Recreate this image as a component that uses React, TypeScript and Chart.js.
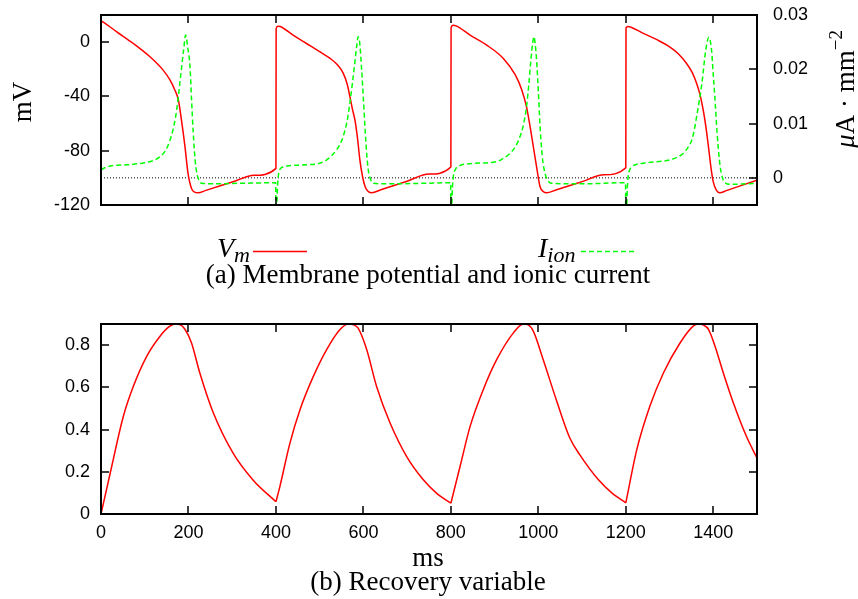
import React, { useEffect, useRef } from "react";
import { Chart, registerables } from "chart.js";

Chart.register(...registerables);

// ---------- data ----------
const X_TICKS = [0, 200, 400, 600, 800, 1000, 1200, 1400];
const MV_TICKS = [-120, -80, -40, 0];
const ION_TICKS = [0, 0.01, 0.02, 0.03];
const W_TICKS = [0, 0.2, 0.4, 0.6, 0.8];
const STIM_T = [400, 800, 1200];

const T_VM = [
  0, 0.5, 5, 36, 74, 112, 142, 158, 169, 177, 184, 192, 199, 207, 214, 222, 240, 302, 350, 400,
  400.5, 404, 410, 440, 470, 500, 524, 540, 554, 563, 569, 575, 581, 587, 592, 598, 604, 611, 619, 640, 700, 750, 800,
  800.5, 805, 812, 844, 882, 920, 947, 962, 973, 985, 996, 1004, 1011, 1019, 1040, 1100, 1150, 1200,
  1200.5, 1205, 1212, 1240, 1270, 1301, 1320, 1339, 1352, 1362, 1370, 1377, 1383, 1389, 1395, 1400, 1407, 1415, 1430, 1460, 1500,
];
const VM = [
  -80, 15.5, 14.8, 7.6, -1, -10.8, -20.6, -28, -35.4, -42.7, -57.5, -77, -96.7, -107.8, -110.5, -111, -109.2, -102.9, -98.1, -93,
  10, 11.8, 11.5, 5, -1, -7, -12, -16.5, -23, -31, -40, -49.5, -58, -72, -87, -99, -106.6, -110, -111, -108.8, -102.5, -97.2, -92,
  10.5, 12.5, 12, 5.2, -2.2, -12, -24, -35, -47.7, -69.8, -91.9, -106.6, -110, -111, -108.9, -102.8, -97.7, -92.6,
  10.5, 11.6, 11, 6.5, 2, -3.6, -8.5, -15.7, -22.5, -30.4, -39, -50, -62, -77, -93, -103, -109, -111, -109.4, -106.1, -101.7,
];

const T_ION = [
  0, 10, 21, 60, 100, 120, 135, 148, 158, 166, 173, 179, 184.5, 189, 193.5, 198, 203.5, 207, 211, 215, 219, 224, 230, 260, 320, 399.5,
  400.2, 401.5, 403, 405, 407, 410, 416, 424, 470, 500, 516, 539, 550, 558, 564, 569, 575, 581, 585, 588, 592, 596, 600, 604, 608, 611, 616, 623, 660, 740, 799.5,
  800.2, 801.5, 803, 805.6, 810, 817, 844, 905, 920, 935, 948, 958, 966, 973, 978, 983, 987, 990, 993, 996, 1000, 1004, 1009, 1015, 1022, 1030, 1100, 1199.5,
  1200.2, 1201.5, 1203, 1205, 1208, 1213, 1240, 1301, 1320, 1331, 1343, 1351, 1357, 1362, 1368, 1374, 1383, 1390, 1396, 1400, 1404, 1409, 1414, 1418, 1423, 1438, 1500,
];
const I_ION = [
  0.0015, 0.0019, 0.0022, 0.0024, 0.0028, 0.0032, 0.0039, 0.0051, 0.007, 0.0093, 0.0125, 0.0165, 0.0205, 0.0236, 0.0263, 0.0242, 0.0205, 0.0145, 0.0082, 0.0035, 0.0009, -0.0004, -0.001, -0.0011, -0.001, -0.0009,
  -0.02, -0.008, -0.003, 0.0, 0.0011, 0.0017, 0.002, 0.0022, 0.0024, 0.0027, 0.0033, 0.0052, 0.0068, 0.0088, 0.011, 0.0138, 0.0175, 0.0217, 0.0245, 0.026, 0.0245, 0.0199, 0.0145, 0.0088, 0.004, 0.0015, -0.0002, -0.001, -0.0011, -0.001, -0.0009,
  -0.02, -0.008, -0.003, 0.0002, 0.0015, 0.0021, 0.0026, 0.003, 0.0036, 0.0045, 0.0058, 0.0076, 0.0098, 0.0131, 0.017, 0.0217, 0.0248, 0.026, 0.0245, 0.0217, 0.016, 0.0094, 0.004, 0.0009, -0.0005, -0.001, -0.0011, -0.0009,
  -0.02, -0.008, -0.003, 0.0, 0.0013, 0.002, 0.0027, 0.0033, 0.0039, 0.0045, 0.0057, 0.007, 0.009, 0.0113, 0.0142, 0.0174, 0.0236, 0.0259, 0.0236, 0.019, 0.0144, 0.008, 0.0033, 0.001, -0.0004, -0.0012, -0.001,
];

const ZERO_T = [0, 1500];
const ZERO_I = [0, 0];

const T_W = [
  0, 21, 51, 74, 104.5, 135, 155, 169, 180, 192, 207, 226, 257, 302, 348, 400,
  409, 432, 455, 485.5, 516, 546.5, 565.5, 578, 588, 607.5, 630, 661, 699, 737, 767.6, 800,
  821, 844, 874, 905, 943, 966, 977, 988.5, 1011, 1042, 1072, 1095, 1137, 1168, 1200,
  1225, 1255, 1286, 1324, 1354, 1366, 1378, 1389, 1404, 1423, 1446, 1476, 1500,
];
const W = [
  0, 0.193, 0.462, 0.605, 0.747, 0.842, 0.886, 0.9, 0.897, 0.875, 0.81, 0.668, 0.478, 0.288, 0.16, 0.058,
  0.13, 0.336, 0.494, 0.652, 0.779, 0.874, 0.9, 0.896, 0.88, 0.779, 0.605, 0.431, 0.272, 0.162, 0.098, 0.051,
  0.225, 0.415, 0.589, 0.732, 0.858, 0.9, 0.896, 0.866, 0.732, 0.535, 0.36, 0.28, 0.163, 0.1, 0.053,
  0.304, 0.51, 0.668, 0.81, 0.89, 0.9, 0.895, 0.874, 0.795, 0.668, 0.526, 0.367, 0.265,
];

const CAPTION_A = "(a) Membrane potential and ionic current";
const CAPTION_B = "(b) Recovery variable";
const X_TITLE = "ms";
const Y_TITLE_V = "mV";

// ---------- style ----------
const SANS = "'Liberation Sans', Arial, Helvetica, sans-serif";
const SERIF = "'Liberation Serif', 'Times New Roman', Times, serif";
const TICK_FONT = { family: SANS, size: 18 };
const RED = "#ff0000";
const GREEN = "#00ff00";

const xy = (xs: number[], ys: number[]) => xs.map((x, i) => ({ x, y: ys[i] }));

function segments(ts: number[], vs: number[], cuts: number[]) {
  const segs: { x: number; y: number }[][] = [];
  let cur: { x: number; y: number }[] = [];
  ts.forEach((t, i) => {
    cur.push({ x: t, y: vs[i] });
    if (cuts.includes(t)) {
      segs.push(cur);
      cur = [{ x: t, y: vs[i] }];
    }
  });
  if (cur.length > 1) segs.push(cur);
  return segs;
}

const fmt = (v: number) => String(Math.round(v * 1000) / 1000);

function framePlugin(leftId: string, leftTicks: number[], mirrorLeft: boolean, rightId?: string, rightTicks?: number[]) {
  return {
    id: "frame",
    afterDatasetsDraw(chart: any) {
      const { ctx, chartArea: a, scales } = chart;
      const L = 8;
      ctx.save();
      ctx.strokeStyle = "#000";
      ctx.lineWidth = 1.5;
      ctx.beginPath();
      for (const v of X_TICKS) {
        const px = Math.round(scales.x.getPixelForValue(v));
        ctx.moveTo(px, a.top);
        ctx.lineTo(px, a.top + L);
        ctx.moveTo(px, a.bottom);
        ctx.lineTo(px, a.bottom - L);
      }
      for (const v of leftTicks) {
        const py = Math.round(scales[leftId].getPixelForValue(v));
        ctx.moveTo(a.left, py);
        ctx.lineTo(a.left + L, py);
        if (mirrorLeft) {
          ctx.moveTo(a.right, py);
          ctx.lineTo(a.right - L, py);
        }
      }
      if (rightId && rightTicks) {
        for (const v of rightTicks) {
          const py = Math.round(scales[rightId].getPixelForValue(v));
          ctx.moveTo(a.right, py);
          ctx.lineTo(a.right - L, py);
        }
      }
      ctx.stroke();
      ctx.lineWidth = 2;
      ctx.strokeRect(a.left, a.top, a.right - a.left, a.bottom - a.top);
      ctx.restore();
    },
  };
}

function drawSub(ctx: CanvasRenderingContext2D, x: number, y: number, main: string, sub: string, size: number) {
  ctx.textAlign = "left";
  ctx.font = `italic ${size}px ${SERIF}`;
  ctx.fillText(main, x, y);
  const w = ctx.measureText(main).width;
  ctx.font = `italic ${Math.round(size * 0.8)}px ${SERIF}`;
  ctx.fillText(sub, x + w, y + 5);
}

const topTextPlugin = {
  id: "topText",
  afterDraw(chart: any) {
    const ctx: CanvasRenderingContext2D = chart.ctx;
    ctx.save();
    ctx.fillStyle = "#000";
    ctx.textBaseline = "alphabetic";
    // legend
    drawSub(ctx, 217, 257, "V", "m", 28);
    ctx.strokeStyle = RED;
    ctx.lineWidth = 1.5;
    ctx.beginPath();
    ctx.moveTo(253, 251.5);
    ctx.lineTo(307, 251.5);
    ctx.stroke();
    drawSub(ctx, 538, 257, "I", "ion", 28);
    ctx.strokeStyle = GREEN;
    ctx.setLineDash([5, 3]);
    ctx.beginPath();
    ctx.moveTo(581, 251.5);
    ctx.lineTo(636, 251.5);
    ctx.stroke();
    ctx.setLineDash([]);
    // caption
    ctx.font = `27px ${SERIF}`;
    ctx.textAlign = "center";
    ctx.fillText(CAPTION_A, 428, 283);
    // left title
    ctx.save();
    ctx.translate(31, 102);
    ctx.rotate(-Math.PI / 2);
    ctx.textAlign = "center";
    ctx.font = `27px ${SERIF}`;
    ctx.fillText(Y_TITLE_V, 0, 0);
    ctx.restore();
    // right title: μA · mm^-2
    ctx.save();
    ctx.translate(854, 89);
    ctx.rotate(-Math.PI / 2);
    ctx.textAlign = "left";
    const parts = [
      { t: "μ", f: `italic 27px ${SERIF}`, dy: 0 },
      { t: "A · mm", f: `27px ${SERIF}`, dy: 0 },
      { t: "−2", f: `19px ${SERIF}`, dy: -12 },
    ];
    let total = 0;
    const ws = parts.map((p) => {
      ctx.font = p.f;
      const w = ctx.measureText(p.t).width;
      total += w;
      return w;
    });
    let x = -total / 2;
    parts.forEach((p, i) => {
      ctx.font = p.f;
      ctx.fillText(p.t, x, p.dy);
      x += ws[i];
    });
    ctx.restore();
    ctx.restore();
  },
};

const bottomTextPlugin = {
  id: "bottomText",
  afterDraw(chart: any) {
    const ctx: CanvasRenderingContext2D = chart.ctx;
    ctx.save();
    ctx.fillStyle = "#000";
    ctx.textBaseline = "alphabetic";
    ctx.textAlign = "center";
    ctx.font = `27px ${SERIF}`;
    ctx.fillText(X_TITLE, 428, 266);
    ctx.fillText(CAPTION_B, 428, 290);
    ctx.restore();
  },
};

const noGrid = { display: false, drawTicks: false };

const fixWidth = (s: any) => {
  s.width = 101;
  s.paddingTop = 0;
  s.paddingBottom = 0;
};
const fixHeight = (s: any) => {
  s.height = 85;
  s.paddingLeft = 0;
  s.paddingRight = 0;
};

export default function App() {
  const topRef = useRef<HTMLCanvasElement>(null);
  const botRef = useRef<HTMLCanvasElement>(null);

  useEffect(() => {
    const top = new Chart(topRef.current as HTMLCanvasElement, {
      type: "line",
      data: {
        datasets: [
          {
            label: "I_ion",
            data: xy(T_ION, I_ION),
            yAxisID: "yI",
            borderColor: GREEN,
            borderWidth: 1.5,
            borderDash: [5, 3],
            pointRadius: 0,
            cubicInterpolationMode: "monotone",
            fill: false,
          },
          {
            label: "V_m",
            data: xy(T_VM, VM),
            yAxisID: "yV",
            borderColor: RED,
            borderWidth: 1.5,
            pointRadius: 0,
            cubicInterpolationMode: "monotone",
            fill: false,
          },
          {
            label: "zero",
            data: xy(ZERO_T, ZERO_I),
            yAxisID: "yI",
            borderColor: "#000",
            borderWidth: 1,
            borderDash: [1, 2],
            pointRadius: 0,
            fill: false,
          },
        ],
      },
      options: {
        responsive: false,
        animation: false,
        events: [],
        layout: { padding: { top: 15, bottom: 95, left: 0, right: 0 } },
        plugins: { legend: { display: false }, tooltip: { enabled: false } },
        scales: {
          x: { type: "linear", min: 0, max: 1500, display: false },
          yV: {
            type: "linear",
            position: "left",
            min: -120,
            max: 20,
            afterBuildTicks: (s: any) => {
              s.ticks = MV_TICKS.map((v) => ({ value: v }));
            },
            afterFit: fixWidth,
            grid: noGrid,
            border: { display: false },
            ticks: { font: TICK_FONT, color: "#000", padding: 11, callback: (v: any) => fmt(Number(v)) },
          },
          yI: {
            type: "linear",
            position: "right",
            min: -0.005,
            max: 0.03,
            afterBuildTicks: (s: any) => {
              s.ticks = ION_TICKS.map((v) => ({ value: v }));
            },
            afterFit: fixWidth,
            grid: noGrid,
            border: { display: false },
            ticks: { font: TICK_FONT, color: "#000", padding: 16, callback: (v: any) => fmt(Number(v)) },
          },
        },
      } as any,
      plugins: [framePlugin("yV", MV_TICKS, false, "yI", ION_TICKS), topTextPlugin],
    });

    const bottom = new Chart(botRef.current as HTMLCanvasElement, {
      type: "line",
      data: {
        datasets: segments(T_W, W, STIM_T).map((seg, i) => ({
          label: "w" + i,
          data: seg,
          borderColor: RED,
          borderWidth: 1.5,
          pointRadius: 0,
          cubicInterpolationMode: "monotone",
          fill: false,
        })),
      },
      options: {
        responsive: false,
        animation: false,
        events: [],
        layout: { padding: { top: 24, bottom: 0, left: 0, right: 101 } },
        plugins: { legend: { display: false }, tooltip: { enabled: false } },
        scales: {
          x: {
            type: "linear",
            position: "bottom",
            min: 0,
            max: 1500,
            afterBuildTicks: (s: any) => {
              s.ticks = X_TICKS.map((v) => ({ value: v }));
            },
            afterFit: fixHeight,
            grid: noGrid,
            border: { display: false },
            ticks: { font: TICK_FONT, color: "#000", padding: 8, maxRotation: 0, autoSkip: false, callback: (v: any) => fmt(Number(v)) },
          },
          y: {
            type: "linear",
            position: "left",
            min: 0,
            max: 0.9,
            afterBuildTicks: (s: any) => {
              s.ticks = W_TICKS.map((v) => ({ value: v }));
            },
            afterFit: fixWidth,
            grid: noGrid,
            border: { display: false },
            ticks: { font: TICK_FONT, color: "#000", padding: 11, callback: (v: any) => fmt(Number(v)) },
          },
        },
      } as any,
      plugins: [framePlugin("y", W_TICKS, true), bottomTextPlugin],
    });

    return () => {
      top.destroy();
      bottom.destroy();
    };
  }, []);

  return (
    <div style={{ position: "absolute", left: 0, top: 0, width: 858, height: 599, background: "#fff" }}>
      <canvas ref={topRef} width={858} height={300} style={{ position: "absolute", left: 0, top: 0, display: "block" }} />
      <canvas ref={botRef} width={858} height={299} style={{ position: "absolute", left: 0, top: 300, display: "block" }} />
    </div>
  );
}
